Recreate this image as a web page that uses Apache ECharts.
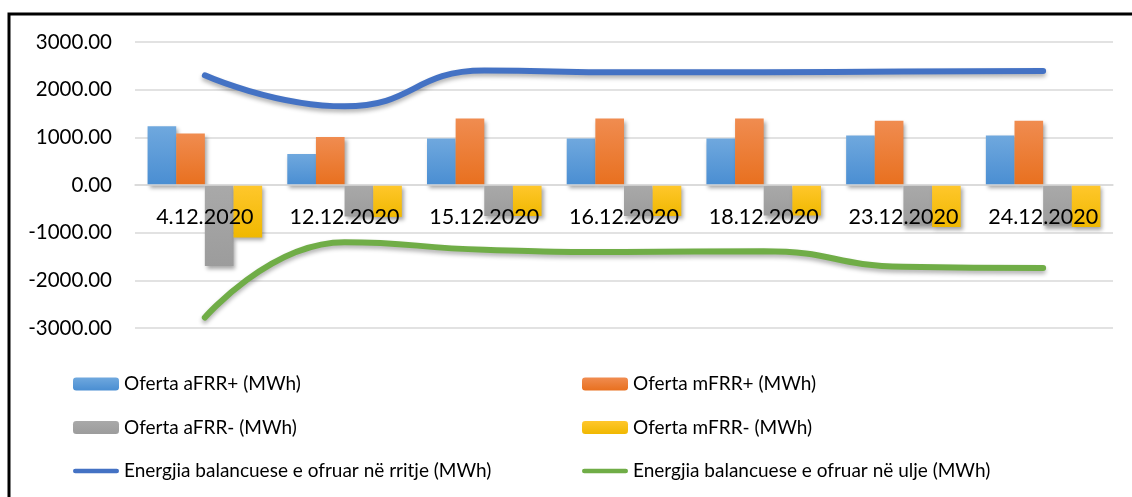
<!DOCTYPE html>
<html>
<head>
<meta charset="utf-8">
<script src="https://cdn.jsdelivr.net/npm/echarts@6/dist/echarts.min.js"></script>
<style>
  html, body { margin: 0; padding: 0; background: #fff; }
  #chart { width: 1132px; height: 497px; }
</style>
</head>
<body>
<div id="chart"></div>
<script>
// data
var dates = ['4.12.2020', '12.12.2020', '15.12.2020', '16.12.2020', '18.12.2020', '23.12.2020', '24.12.2020'];
var afrrUp = [1230, 650, 975, 975, 975, 1040, 1040];
var mfrrUp = [1080, 1005, 1395, 1395, 1395, 1350, 1350];
var afrrDown = [-1700, -660, -650, -650, -640, -850, -850];
var mfrrDown = [-1100, -670, -650, -650, -640, -880, -880];
var energyUp = [2300, 1650, 2400, 2365, 2365, 2380, 2390];
var energyDown = [-2780, -1200, -1360, -1405, -1390, -1715, -1740];
var yTicks = { min: -3000, max: 3000, step: 1000 };

var myChart = echarts.init(document.getElementById('chart'));

function grad(top, bottom) {
    return new echarts.graphic.LinearGradient(0, 0, 0, 1, [
        { offset: 0, color: top },
        { offset: 1, color: bottom }
    ]);
}

var barShadow = {
    shadowColor: 'rgba(0,0,0,0.35)',
    shadowBlur: 4,
    shadowOffsetX: 2,
    shadowOffsetY: 3
};

function barSeries(name, data, top, bottom) {
    return {
        name: name,
        type: 'bar',
        data: data,
        barGap: '0%',
        barCategoryGap: '18%',
        itemStyle: Object.assign({ color: grad(top, bottom) }, barShadow)
    };
}

function lineSeries(name, data, color) {
    return {
        name: name,
        type: 'line',
        data: data,
        smooth: 0.5,
        symbol: 'none',
        z: 3,
        itemStyle: { color: color },
        lineStyle: {
            color: color,
            width: 6,
            cap: 'round',
            shadowColor: 'rgba(0,0,0,0.3)',
            shadowBlur: 4,
            shadowOffsetY: 3
        }
    };
}

var fontFamily = 'Lato';
// rounded thin stroke used as legend icon of the two lines
var lineIcon = 'path://M2.5,0 L47.5,0 A2.5,2.5 0 0 1 47.5,5 L2.5,5 A2.5,2.5 0 0 1 2.5,0 Z';

var legendBase = {
    orient: 'vertical',
    padding: 0,
    itemWidth: 46,
    itemHeight: 13,
    itemGap: 23.5,
    textStyle: { fontFamily: fontFamily, fontSize: 19, color: '#000', lineHeight: 20 }
};

// y pixel of zero inside the grid, to lift the category axis onto it
var gridTop = 42, gridBottom = 169, chartH = 497;
var zeroOffset = (chartH - gridBottom - gridTop) * (yTicks.max / (yTicks.max - yTicks.min));

var option = {
    backgroundColor: '#fff',
    animation: false,
    textStyle: { fontFamily: fontFamily },
    graphic: [{
        type: 'rect',
        shape: { x: 9, y: 14, width: 1200, height: 600 },
        style: { fill: 'none', stroke: '#000', lineWidth: 3 },
        z: -1
    }],
    legend: [
        Object.assign({}, legendBase, {
            left: 73, top: 374,
            data: ['Oferta aFRR+ (MWh)', 'Oferta aFRR- (MWh)',
                { name: 'Energjia balancuese e ofruar në rritje (MWh)', icon: lineIcon }]
        }),
        Object.assign({}, legendBase, {
            left: 582, top: 374,
            data: ['Oferta mFRR+ (MWh)', 'Oferta mFRR- (MWh)',
                { name: 'Energjia balancuese e ofruar në ulje (MWh)', icon: lineIcon }]
        })
    ],
    grid: { left: 135, right: 19, top: gridTop, bottom: gridBottom },
    xAxis: {
        type: 'category',
        data: dates,
        z: 5,
        offset: -zeroOffset,
        axisLine: { onZero: false, lineStyle: { color: '#d9d9d9', width: 1.5 } },
        axisTick: { show: false },
        axisLabel: {
            interval: 0,
            hideOverlap: false,
            margin: 21,
            fontSize: 21.5,
            color: '#000',
            fontFamily: fontFamily
        }
    },
    yAxis: {
        type: 'value',
        min: yTicks.min,
        max: yTicks.max,
        interval: yTicks.step,
        axisLine: { show: false },
        axisTick: { show: false },
        splitLine: { lineStyle: { color: '#d9d9d9', width: 1.5 } },
        axisLabel: {
            margin: 23,
            fontSize: 20.5,
            color: '#000',
            fontFamily: fontFamily,
            formatter: function (v) { return v.toFixed(2); }
        }
    },
    series: [
        barSeries('Oferta aFRR+ (MWh)', afrrUp, '#6fa8de', '#4a8ed2'),
        barSeries('Oferta mFRR+ (MWh)', mfrrUp, '#f08c50', '#e8701f'),
        barSeries('Oferta aFRR- (MWh)', afrrDown, '#a9a9a9', '#9c9c9c'),
        barSeries('Oferta mFRR- (MWh)', mfrrDown, '#ffc72c', '#f0b800'),
        lineSeries('Energjia balancuese e ofruar në rritje (MWh)', energyUp, '#4472c4'),
        lineSeries('Energjia balancuese e ofruar në ulje (MWh)', energyDown, '#70ad47')
    ]
};

myChart.setOption(option);
</script>
</body>
</html>
